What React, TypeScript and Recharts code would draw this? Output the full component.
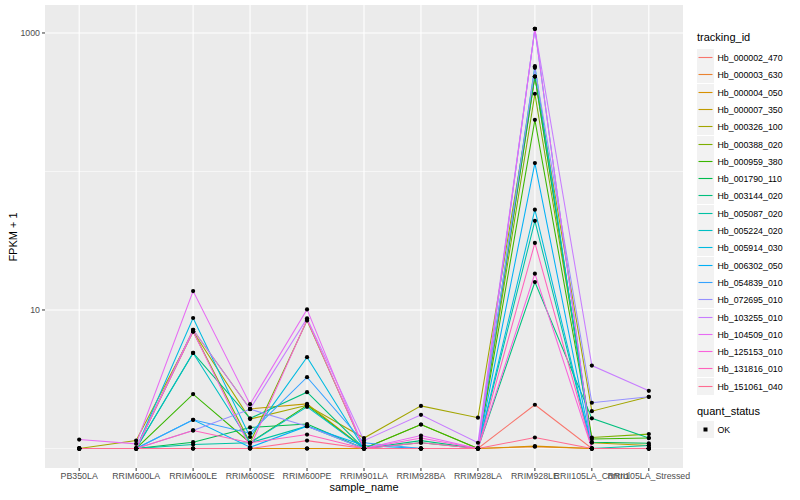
import { LineChart, Line, XAxis, YAxis, CartesianGrid, ReferenceLine } from "recharts";

const SAMPLES = [
    "PB350LA", "RRIM600LA", "RRIM600LE", "RRIM600SE", "RRIM600PE", "RRIM901LA",
    "RRIM928BA", "RRIM928LA", "RRIM928LE", "RRII105LA_Control", "RRII105LA_Stressed",
];

const TRACKING_IDS = [
    "Hb_000002_470", "Hb_000003_630", "Hb_000004_050", "Hb_000007_350", "Hb_000326_100",
    "Hb_000388_020", "Hb_000959_380", "Hb_001790_110", "Hb_003144_020", "Hb_005087_020",
    "Hb_005224_020", "Hb_005914_030", "Hb_006302_050", "Hb_054839_010", "Hb_072695_010",
    "Hb_103255_010", "Hb_104509_010", "Hb_125153_010", "Hb_131816_010", "Hb_151061_040",
];

const COLORS = [
    "#F8766D", "#EA8331", "#D89000", "#C09B00", "#A3A500", "#7CAE00", "#39B600",
    "#00BB4E", "#00BF7D", "#00C1A3", "#00BFC4", "#00BAE0", "#00B0F6", "#35A2FF",
    "#9590FF", "#C77CFF", "#E76BF3", "#FA62DB", "#FF62BC", "#FF6C91",
];

// FPKM + 1, one row per tracking id, one value per sample
const s00 = [1, 1, 1, 1, 1, 1, 1, 1, 2.07, 1, 1];
const s01 = [1, 1, 1, 1, 1, 1, 1, 1, 1.03, 1, 1];
const s02 = [1, 1, 1, 1, 1, 1, 1, 1, 1.04, 1, 1];
const s03 = [1, 1, 7.2, 1.93, 2.1, 1, 1, 1, 485, 1.1, 1.05];
const s04 = [1, 1.14, 7.0, 1.63, 2.05, 1.19, 2.03, 1.67, 485, 1.86, 2.36];
const s05 = [1, 1, 7.0, 1.1, 8.4, 1, 1.49, 1, 364, 1.2, 1.27];
const s06 = [1, 1, 2.47, 1.1, 2.05, 1, 1.49, 1, 236, 1.17, 1.19];
const s07 = [1, 1, 1.11, 1.42, 1.5, 1, 1.1, 1, 485, 1.11, 1.09];
const s08 = [1, 1, 4.9, 1.65, 2.55, 1, 1.14, 1, 15.9, 1.65, 1.19];
const s09 = [1, 1, 1.07, 1.1, 1.45, 1, 1, 1, 44, 1, 1.05];
const s10 = [1, 1, 4.9, 1.1, 2.0, 1, 1, 1, 576, 1, 1];
const s11 = [1, 1, 8.75, 1.21, 4.56, 1, 1, 1, 53, 1, 1];
const s12 = [1, 1, 1.61, 1.02, 1.45, 1.05, 1, 1, 115, 1, 1];
const s13 = [1, 1, 1.61, 1.29, 3.27, 1.1, 1, 1, 1072, 1, 1];
const s14 = [1, 1, 1.35, 1.92, 1.45, 1, 1, 1, 560, 2.14, 2.36];
const s15 = [1, 1, 7.2, 1.93, 8.7, 1.14, 1.75, 1.1, 1072, 3.97, 2.61];
const s16 = [1.16, 1.08, 13.7, 2.09, 10.1, 1, 1.24, 1, 1072, 1, 1];
const s17 = [1, 1, 7.0, 1.02, 8.5, 1, 1.19, 1, 18.3, 1, 1];
const s18 = [1, 1, 1.35, 1.1, 1.26, 1, 1.1, 1, 30.5, 1, 1];
const s19 = [1, 1, 1, 1, 1.14, 1, 1, 1, 1.2, 1, 1];

const SERIES = [s00, s01, s02, s03, s04, s05, s06, s07, s08, s09,
    s10, s11, s12, s13, s14, s15, s16, s17, s18, s19];

const Y_TICKS = [10, 1000];
const Y_MINOR = [1, 100];

const data = SAMPLES.map((name, i) => {
    const row: Record<string, number | string> = { idx: i, name };
    SERIES.forEach((s, j) => { row["s" + j] = s[i]; });
    return row;
});

const FONT = '"Liberation Sans", Arial, Helvetica, sans-serif';

const LegendKey = ({ color, point }: { color?: string; point?: boolean }) => (
    <svg width={17} height={17} style={{ display: "block" }}>
        <rect x={0} y={0} width={17} height={17} fill="#F2F2F2" />
        {color && <line x1={1.5} x2={15.5} y1={8.5} y2={8.5} stroke={color} strokeWidth={1.1} />}
        {point && <rect x={6.5} y={6.5} width={4} height={4} fill="#000" />}
    </svg>
);

const App = () => {
    return (
        <div style={{ position: "absolute", left: 0, top: 0, width: 800, height: 500, background: "#fff", fontFamily: FONT }}>
            <LineChart
                width={800}
                height={500}
                data={data}
                margin={{ top: 5, right: 117, bottom: 12, left: 5 }}
            >
                <CartesianGrid fill="#EBEBEB" stroke="none" horizontal={false} vertical={false} />
                {Y_MINOR.map((v) => (
                    <ReferenceLine key={"ym" + v} y={v} stroke="#FFFFFF" strokeWidth={0.55} />
                ))}
                {Y_TICKS.map((v) => (
                    <ReferenceLine key={"yM" + v} y={v} stroke="#FFFFFF" strokeWidth={1.1} />
                ))}
                {SAMPLES.map((s, i) => (
                    <ReferenceLine key={"x" + s} x={i} stroke="#FFFFFF" strokeWidth={1.1} />
                ))}
                <XAxis
                    dataKey="idx"
                    type="number"
                    domain={[-0.6, 10.6]}
                    ticks={SAMPLES.map((_, i) => i)}
                    tickFormatter={(v: number) => SAMPLES[v]}
                    interval={0}
                    height={20}
                    axisLine={false}
                    tickLine={{ stroke: "#333333" }}
                    tickSize={3}
                    tickMargin={2}
                    tick={{ fill: "#4D4D4D", fontSize: 8.8, fontFamily: FONT }}
                />
                <YAxis
                    type="number"
                    scale="log"
                    domain={[0.723, 1592]}
                    allowDataOverflow
                    ticks={Y_TICKS}
                    width={40}
                    axisLine={false}
                    tickLine={{ stroke: "#333333" }}
                    tickSize={3}
                    tickMargin={2}
                    tick={{ fill: "#4D4D4D", fontSize: 8.8, fontFamily: FONT }}
                />
                {SERIES.map((_, j) => (
                    <Line
                        key={"l" + j}
                        type="linear"
                        dataKey={"s" + j}
                        stroke={COLORS[j]}
                        strokeWidth={1.05}
                        dot={false}
                        activeDot={false}
                        isAnimationActive={false}
                    />
                ))}
                {SERIES.map((_, j) => (
                    <Line
                        key={"p" + j}
                        type="linear"
                        dataKey={"s" + j}
                        stroke="none"
                        dot={{ r: 2.1, fill: "#000000", stroke: "none" }}
                        activeDot={false}
                        legendType="none"
                        isAnimationActive={false}
                    />
                ))}
            </LineChart>

            <div style={{ position: "absolute", left: 364, top: 481, transform: "translateX(-50%)", fontSize: 11, color: "#000" }}>
                sample_name
            </div>
            <div style={{ position: "absolute", left: 13, top: 237, transform: "translate(-50%, -50%) rotate(-90deg)", fontSize: 11, color: "#000", whiteSpace: "nowrap" }}>
                FPKM + 1
            </div>

            <div style={{ position: "absolute", left: 697, top: 31, fontSize: 11, color: "#000" }}>tracking_id</div>
            {TRACKING_IDS.map((id, j) => (
                <div key={id} style={{ position: "absolute", left: 697, top: Math.round(49 + j * 17.3), height: 17, display: "flex", alignItems: "center" }}>
                    <LegendKey color={COLORS[j]} />
                    <span style={{ marginLeft: 3.5, fontSize: 8.8, color: "#000" }}>{id}</span>
                </div>
            ))}

            <div style={{ position: "absolute", left: 697, top: 405, fontSize: 11, color: "#000" }}>quant_status</div>
            <div style={{ position: "absolute", left: 697, top: 421, height: 17, display: "flex", alignItems: "center" }}>
                <LegendKey point />
                <span style={{ marginLeft: 3.5, fontSize: 8.8, color: "#000" }}>OK</span>
            </div>
        </div>
    );
};

export default App;
